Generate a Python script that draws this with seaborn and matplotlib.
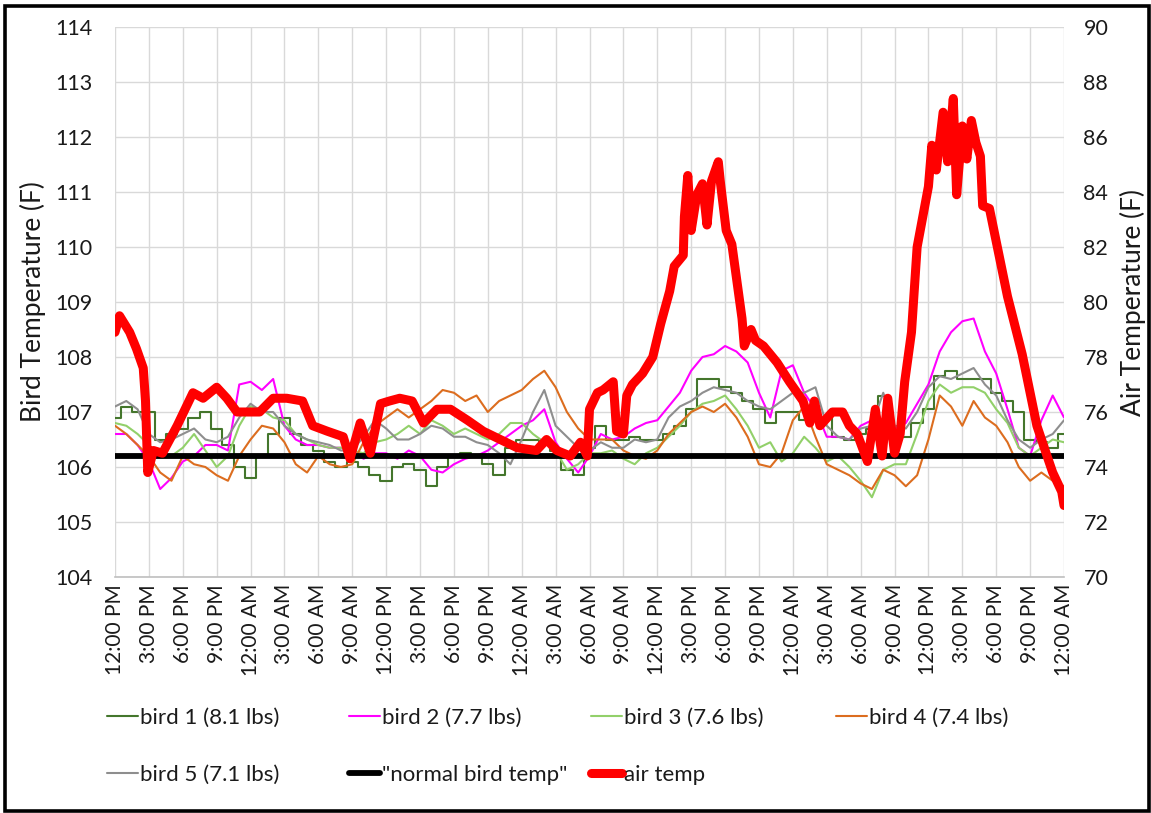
import matplotlib
matplotlib.use("Agg")
import matplotlib.pyplot as plt
import seaborn as sns
from matplotlib.patches import Rectangle

# ---------------- data ----------------
hours = list(range(0, 85))  # hours after 12:00 PM of day 1

bird1 = [106.9, 107.1, 107.0, 107.0, 106.5, 106.6, 106.7, 106.9, 107.0, 106.7, 106.4, 106.0, 105.8, 106.2, 106.6, 106.9, 106.6, 106.4, 106.3, 106.1, 106.0, 106.1,
         106.0, 105.85, 105.75, 106.0, 106.05, 105.95, 105.65, 106.0, 106.2, 106.25, 106.2, 106.05, 105.85, 106.35, 106.5, 106.5, 106.45, 106.3, 105.95, 105.85, 106.35,
         106.75, 106.5, 106.5, 106.55, 106.5, 106.5, 106.6, 106.75, 107.05, 107.6, 107.6, 107.45, 107.35, 107.2, 107.05, 106.8, 107.0, 107.0, 106.85, 106.9, 106.9,
         106.55, 106.5, 106.6, 106.7, 107.3, 106.75, 106.55, 106.8, 107.05, 107.65, 107.75, 107.6, 107.6, 107.6, 107.35, 107.2, 107.0, 106.5, 106.45, 106.35, 106.6]

bird2 = [106.6, 106.6, 106.4, 106.1, 105.6, 105.8, 106.1, 106.2, 106.4, 106.4, 106.3, 107.5, 107.55, 107.4, 107.6, 106.75, 106.5, 106.4, 106.4, 106.35, 106.35, 106.3,
         106.15, 106.25, 106.25, 106.15, 106.3, 106.2, 105.95, 105.9, 106.05, 106.15, 106.2, 106.3, 106.45, 106.6, 106.75, 106.85, 107.05, 106.45, 106.15, 105.9, 106.2,
         106.6, 106.5, 106.55, 106.7, 106.8, 106.85, 107.1, 107.35, 107.75, 108.0, 108.05, 108.2, 108.1, 107.9, 107.35, 106.9, 107.75, 107.85, 107.35, 107.05, 106.55,
         106.55, 106.5, 106.75, 106.85, 106.85, 106.7, 106.8, 107.15, 107.5, 108.1, 108.45, 108.65, 108.7, 108.1, 107.7, 107.05, 106.35, 106.2, 106.85, 107.3, 106.9]

bird3 = [106.8, 106.75, 106.6, 106.4, 106.2, 106.2, 106.35, 106.6, 106.3, 106.0, 106.2, 106.75, 107.1, 107.05, 106.9, 106.85, 106.6, 106.5, 106.4, 106.35, 106.35, 106.3,
         106.25, 106.45, 106.5, 106.6, 106.75, 106.6, 106.85, 106.75, 106.6, 106.7, 106.6, 106.5, 106.6, 106.8, 106.8, 106.6, 106.45, 106.3, 105.95, 106.05, 106.25,
         106.25, 106.3, 106.15, 106.05, 106.25, 106.35, 106.55, 106.75, 107.0, 107.15, 107.2, 107.3, 107.05, 106.75, 106.35, 106.45, 106.1, 106.25, 106.55, 106.35, 106.1,
         106.2, 106.0, 105.75, 105.45, 105.95, 106.05, 106.05, 106.6, 107.2, 107.5, 107.35, 107.45, 107.45, 107.35, 107.05, 106.8, 106.35, 106.2, 106.35, 106.5, 106.45]

bird4 = [106.75, 106.6, 106.4, 106.2, 105.9, 105.75, 106.2, 106.05, 106.0, 105.85, 105.75, 106.2, 106.5, 106.75, 106.7, 106.45, 106.05, 105.9, 106.2, 106.05, 106.0, 106.05,
         106.45, 106.75, 106.9, 107.05, 106.9, 107.05, 107.2, 107.4, 107.35, 107.2, 107.3, 107.0, 107.2, 107.3, 107.4, 107.6, 107.75, 107.45, 107.0, 106.7, 106.5,
         106.5, 106.5, 106.3, 106.2, 106.15, 106.3, 106.6, 106.8, 107.0, 107.1, 107.0, 107.15, 106.9, 106.55, 106.05, 106.0, 106.25, 106.85, 107.1, 106.55, 106.05,
         105.95, 105.85, 105.7, 105.6, 105.95, 105.85, 105.65, 105.85, 106.5, 107.3, 107.1, 106.75, 107.2, 106.9, 106.75, 106.45, 106.0, 105.75, 105.9, 105.75, 105.65]

bird5 = [107.1, 107.2, 107.05, 106.6, 106.45, 106.5, 106.6, 106.7, 106.5, 106.45, 106.55, 106.9, 107.15, 107.0, 107.0, 106.75, 106.6, 106.5, 106.45, 106.4, 106.3, 106.3,
         106.55, 106.85, 106.7, 106.5, 106.5, 106.6, 106.75, 106.7, 106.55, 106.55, 106.45, 106.4, 106.25, 106.05, 106.5, 107.0, 107.4, 106.75, 106.55, 106.35, 106.3,
         106.45, 106.35, 106.35, 106.5, 106.45, 106.5, 106.9, 107.1, 107.2, 107.35, 107.45, 107.4, 107.35, 107.2, 107.1, 107.05, 107.2, 107.35, 107.35, 107.45, 106.75,
         106.55, 106.5, 106.7, 106.75, 107.35, 106.75, 106.7, 107.0, 107.45, 107.65, 107.6, 107.7, 107.8, 107.5, 107.3, 106.85, 106.5, 106.35, 106.5, 106.6, 106.85]

normal_bird_temp = 106.2

air_hours = [0.0, 0.4, 1.3, 1.9, 2.5, 2.7, 2.9, 3.4, 4.2, 5.5, 6.9, 7.8, 9.0, 9.9, 10.8, 12.8, 14.0, 15.2, 16.6, 17.5,
             18.8, 20.2, 20.8, 21.7, 22.6, 23.5, 24.3, 25.2, 26.3, 27.3, 28.5, 29.7, 31.2, 32.6, 34.1, 35.6, 37.3, 38.2, 39.1, 40.3,
             41.2, 41.8, 42.0, 42.7, 43.2, 44.1, 44.4, 45.0, 45.3, 45.8, 46.7, 47.6, 48.3, 49.1, 49.5, 50.3, 50.4, 50.7, 51.0, 51.5,
             52.0, 52.4, 52.8, 53.4, 53.6, 54.1, 54.6, 55.1, 55.5, 55.7, 56.3, 56.7, 57.4, 58.6, 59.7, 60.9, 61.5, 61.9, 62.4, 63.5,
             64.4, 65.0, 65.7, 66.6, 67.3, 67.9, 68.4, 69.0, 69.5, 69.9, 70.5, 71.0, 71.5, 72.0, 72.3, 72.7, 73.3, 73.7, 74.2, 74.5,
             75.0, 75.4, 75.8, 76.2, 76.6, 76.8, 77.4, 78.1, 79.0, 80.3, 81.0, 81.6, 82.5, 83.0, 83.8, 84.0]
air_temp = [78.9, 79.5, 78.9, 78.3, 77.6, 76.4, 73.8, 74.6, 74.5, 75.5, 76.7, 76.5, 76.9, 76.5, 76.0, 76.0, 76.5, 76.5, 76.4, 75.5,
            75.3, 75.1, 74.3, 75.6, 74.5, 76.3, 76.4, 76.5, 76.4, 75.6, 76.1, 76.1, 75.7, 75.3, 75.0, 74.7, 74.6, 75.0, 74.6, 74.4,
            74.9, 74.4, 76.1, 76.7, 76.8, 77.1, 75.3, 75.2, 76.6, 77.0, 77.4, 78.0, 79.2, 80.4, 81.3, 81.7, 83.1, 84.6, 82.6, 83.9,
            84.3, 82.8, 84.4, 85.1, 84.3, 82.6, 82.1, 80.6, 79.4, 78.4, 79.0, 78.6, 78.4, 77.8, 77.1, 76.4, 75.6, 76.4, 75.5, 76.0,
            76.0, 75.5, 75.2, 74.2, 76.1, 74.4, 76.5, 74.5, 75.2, 77.1, 78.9, 82.0, 83.1, 84.2, 85.7, 84.8, 86.9, 85.1, 87.4, 83.9,
            86.4, 85.2, 86.6, 85.8, 85.3, 83.5, 83.4, 82.0, 80.2, 78.1, 76.7, 75.5, 74.4, 73.8, 73.1, 72.6]

tick_labels = ["12:00 PM", "3:00 PM", "6:00 PM", "9:00 PM", "12:00 AM", "3:00 AM", "6:00 AM", "9:00 AM",
               "12:00 PM", "3:00 PM", "6:00 PM", "9:00 PM", "12:00 AM", "3:00 AM", "6:00 AM", "9:00 AM",
               "12:00 PM", "3:00 PM", "6:00 PM", "9:00 PM", "12:00 AM", "3:00 AM", "6:00 AM", "9:00 AM",
               "12:00 PM", "3:00 PM", "6:00 PM", "9:00 PM", "12:00 AM"]

bird_names = ["bird 1 (8.1 lbs)", "bird 2 (7.7 lbs)", "bird 3 (7.6 lbs)", "bird 4 (7.4 lbs)", "bird 5 (7.1 lbs)"]
normal_name = '"normal bird temp"'
air_name = "air temp"

bird_colors = ["#44762c", "#ff00ff", "#92d06a", "#dc6d1f", "#8e8e8e"]
bird_drawstyles = ["steps-mid", "default", "default", "default", "default"]

# ---------------- style ----------------
sns.set_theme(style="white")
plt.rcParams["font.family"] = ["Lato", "DejaVu Sans"]
TXT = "#1a1a1a"

W, H = 1151, 813
fig = plt.figure(figsize=(W / 100, H / 100), dpi=100)
fig.patch.set_facecolor("white")

ax_left, ax_right, ax_top, ax_bot = 115, 1064, 27, 577
ax = fig.add_axes([ax_left / W, 1 - ax_bot / H, (ax_right - ax_left) / W, (ax_bot - ax_top) / H])

for name, vals, col, ds in zip(bird_names, [bird1, bird2, bird3, bird4, bird5], bird_colors, bird_drawstyles):
    sns.lineplot(x=hours, y=vals, ax=ax, color=col, linewidth=1.5, label=name,
                 legend=False, estimator=None, sort=False, drawstyle=ds)
ax.axhline(normal_bird_temp, color="black", linewidth=4.2, label=normal_name, zorder=3)

ax2 = ax.twinx()
sns.lineplot(x=air_hours, y=air_temp, ax=ax2, color="#ff0000", linewidth=6.5, label=air_name,
             legend=False, estimator=None, sort=False,
             solid_capstyle="round", solid_joinstyle="round")

ax.set_xlim(0, 84)
ax.set_ylim(104, 114)
ax2.set_ylim(70, 90)
ax.set_xticks(list(range(0, 85, 3)))
ax.set_xticklabels(tick_labels, rotation=90)
ax.set_yticks(list(range(104, 115)))
ax2.set_yticks(list(range(70, 91, 2)))

ax.grid(True, color="#d9d9d9", linewidth=1.0)
ax.set_axisbelow(True)
ax2.grid(False)
for s in ["left", "right", "top"]:
    ax.spines[s].set_visible(False)
ax.spines["bottom"].set_color("#bfbfbf")
ax.spines["bottom"].set_linewidth(1.2)
for s in ax2.spines.values():
    s.set_visible(False)

ax.tick_params(axis="y", length=0, labelsize=15.5, pad=16, colors=TXT)
ax.tick_params(axis="x", length=0, labelsize=15, pad=5, colors=TXT)
ax2.tick_params(axis="y", length=0, labelsize=15.5, pad=14, colors=TXT)

ax.set_ylabel("Bird Temperature (F)", fontsize=19, color=TXT, va="center")
ax2.set_ylabel("Air Temperature (F)", fontsize=19, color=TXT, va="center", rotation=90)
ax.yaxis.set_label_coords((33 - ax_left) / (ax_right - ax_left), 0.5)
ax2.yaxis.set_label_coords((1133 - ax_left) / (ax_right - ax_left), 0.5)

# ---------------- legend (Excel-like uniform grid) ----------------
bird_handles = ax.get_lines()[:5]
normal_handle = ax.get_lines()[5]
air_handle = ax2.get_lines()[0]
entries = [
    (bird_handles[0], 107, 718), (bird_handles[1], 349, 718), (bird_handles[2], 591, 718), (bird_handles[3], 836, 718),
    (bird_handles[4], 107, 775), (normal_handle, 349, 775), (air_handle, 591, 775),
]
for h, px, py in entries:
    lg = fig.legend(handles=[h], labels=[h.get_label()], loc="center left",
                    bbox_to_anchor=(px / W, 1 - py / H), frameon=False,
                    borderaxespad=0, borderpad=0, handlelength=1.4, handletextpad=0.1,
                    fontsize=16, labelcolor=TXT)
    for ln in lg.get_lines():
        ln.set_drawstyle("default")
        ln.set_solid_capstyle("round")

# outer black frame
fig.patches.append(Rectangle((4.5 / W, 2.5 / H), 1144 / W, 804 / H, transform=fig.transFigure,
                             fill=False, edgecolor="black", linewidth=2.6))

fig.savefig("out.png", dpi=100)
